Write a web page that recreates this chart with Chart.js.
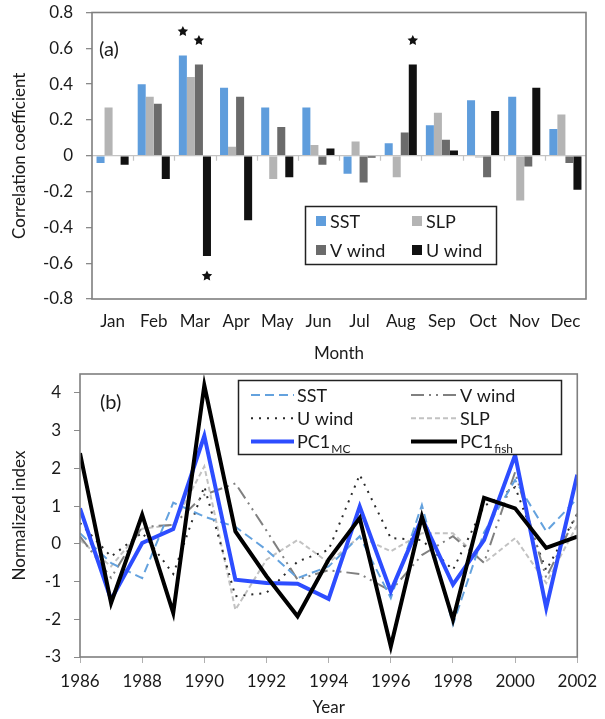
<!DOCTYPE html>
<html>
<head>
<meta charset="utf-8">
<script src="https://cdn.jsdelivr.net/npm/chart.js@4/dist/chart.umd.min.js"></script>
<style>
  html, body { margin: 0; padding: 0; background: #fff; }
  #wrap { position: relative; width: 605px; height: 719px; }
  #ca { position: absolute; left: 0; top: 0; }
  #cb { position: absolute; left: 0; top: 360px; }
</style>
</head>
<body>
<div id="wrap">
  <canvas id="ca" width="605" height="375"></canvas>
  <canvas id="cb" width="605" height="359"></canvas>
</div>
<script>
// Pannello (a): correlazioni mensili. Pannello (b): indici normalizzati 1986-2002.

const months = ["Jan", "Feb", "Mar", "Apr", "May", "Jun", "Jul", "Aug", "Sep", "Oct", "Nov", "Dec"];
const sstCorr   = [-0.04, 0.40, 0.56, 0.38, 0.27, 0.27, -0.10, 0.07, 0.17, 0.31, 0.33, 0.15];
const slpCorr   = [0.27, 0.33, 0.44, 0.05, -0.13, 0.06, 0.08, -0.12, 0.24, -0.01, -0.25, 0.23];
const vwindCorr = [0.00, 0.29, 0.51, 0.33, 0.16, -0.05, -0.15, 0.13, 0.09, -0.12, -0.06, -0.04];
const uwindCorr = [-0.05, -0.13, -0.56, -0.36, -0.12, 0.04, -0.01, 0.51, 0.03, 0.25, 0.38, -0.19];
// barre significative: [indice mese, indice serie]
const sigBars = [[2, 0], [2, 2], [2, 3], [7, 3]];
const corrTicks = [-0.8, -0.6, -0.4, -0.2, 0, 0.2, 0.4, 0.6, 0.8];

const years   = [1986, 1987, 1988, 1989, 1990, 1991, 1992, 1993, 1994, 1995, 1996, 1997, 1998, 1999, 2000, 2001, 2002];
const sstIdx   = [0.28, -0.51, -0.91, 1.09, 0.72, 0.45, -0.16, -0.91, -0.6, 0.2, -1.44, 1.03, -2.14, 0.3, 1.69, 0.33, 1.2];
const vwindIdx = [0.2, -0.9, 0.45, 0.5, 1.3, 1.6, 0.35, -0.95, -0.7, -0.8, -1.25, -0.3, 0.2, -0.5, 1.9, -0.9, 0.8];
const uwindIdx = [0.55, -0.34, 0.3, -0.8, 1.52, -1.39, -1.3, -0.47, -0.16, 1.83, 0.15, 0.1, -0.69, 1.0, 1.5, -0.7, 0.8];
const slpIdx   = [0.1, -0.6, 0.4, 0.5, 2.05, -1.75, -0.42, 0.1, -0.5, 0.19, -0.2, 0.28, 0.28, -0.51, 0.15, -1.04, 0.5];
const pc1Mc    = [0.94, -1.48, 0.02, 0.39, 2.86, -0.95, -1.04, -1.06, -1.46, 0.99, -1.26, 0.68, -1.08, 0.1, 2.35, -1.70, 1.83];
const pc1Fish  = [2.4, -1.57, 0.77, -1.83, 4.2, 0.33, -0.86, -1.92, -0.42, 0.68, -2.72, 0.72, -2.01, 1.22, 0.94, -0.11, 0.19];
const idxTicks = [-3, -2, -1, 0, 1, 2, 3, 4];

const FONT = "Lato, 'Open Sans', sans-serif";
const TXT = "#1a1a1a";
Chart.defaults.font.family = FONT;
Chart.defaults.color = TXT;

function drawFrame(chart) {
  const { ctx, chartArea: a } = chart;
  ctx.save();
  ctx.strokeStyle = "#7f7f7f";
  ctx.lineWidth = 1.6;
  ctx.strokeRect(a.left, a.top, a.right - a.left, a.bottom - a.top);
  ctx.restore();
}

function drawStar(ctx, cx, cy, r) {
  ctx.beginPath();
  for (let i = 0; i < 10; i++) {
    const ang = -Math.PI / 2 + i * Math.PI / 5;
    const rr = i % 2 ? r * 0.5 : r;
    ctx.lineTo(cx + rr * Math.cos(ang), cy + rr * Math.sin(ang));
  }
  ctx.closePath();
  ctx.fill();
}

// niente padding extra per le etichette agli estremi
function fixY(width) {
  return s => { s.width = width; s.paddingTop = 0; s.paddingBottom = 0; };
}

// ---------- pannello (a) ----------
const barSeries = [
  { label: "SST", data: sstCorr, color: "#5f9ddc" },
  { label: "SLP", data: slpCorr, color: "#b4b4b4" },
  { label: "V wind", data: vwindCorr, color: "#6b6b6b" },
  { label: "U wind", data: uwindCorr, color: "#111111" },
];

const panelAPlugin = {
  id: "panelA",
  afterDatasetsDraw(chart) {
    const { ctx, chartArea: a, scales } = chart;
    const y0 = scales.y.getPixelForValue(0);
    const slot = (a.right - a.left) / months.length;
    ctx.save();
    // trattini tra i mesi sotto lo zero
    ctx.strokeStyle = "#c4c4c4";
    ctx.lineWidth = 1.2;
    for (let i = 1; i < months.length; i++) {
      const x = Math.round(a.left + i * slot) + 0.5;
      ctx.beginPath(); ctx.moveTo(x, y0); ctx.lineTo(x, y0 + 5); ctx.stroke();
    }
    // asterischi
    ctx.fillStyle = "#111";
    sigBars.forEach(([m, d]) => {
      const el = chart.getDatasetMeta(d).data[m];
      const v = barSeries[d].data[m];
      const cy = v >= 0 ? el.y - 24 : el.y + 20;
      drawStar(ctx, el.x, cy, 5.5);
    });
    ctx.restore();
    drawFrame(chart);

    ctx.save();
    ctx.fillStyle = TXT;
    ctx.font = "20px " + FONT;
    ctx.textBaseline = "middle";
    ctx.fillText("(a)", 99, 50);
    // legenda
    const bx = 305, by = 206, bw = 191, bh = 58;
    ctx.strokeStyle = "#222";
    ctx.lineWidth = 1.5;
    ctx.strokeRect(bx + 0.5, by + 0.5, bw, bh);
    ctx.font = "18px " + FONT;
    barSeries.forEach((s, i) => {
      const col = i % 2, row = Math.floor(i / 2);
      const sx = bx + 11 + col * 96, sy = by + 15 + row * 29;
      ctx.fillStyle = s.color;
      ctx.fillRect(sx, sy - 5, 10, 10);
      ctx.fillStyle = TXT;
      ctx.fillText(s.label, sx + 14, sy + 1);
    });
    ctx.restore();
  }
};

new Chart(document.getElementById("ca"), {
  type: "bar",
  data: {
    labels: months,
    datasets: barSeries.map(s => ({
      label: s.label,
      data: s.data,
      backgroundColor: s.color,
      borderWidth: 0,
      categoryPercentage: 0.78,
      barPercentage: 1.0,
    })),
  },
  options: {
    responsive: false,
    devicePixelRatio: 1,
    animation: false,
    layout: { padding: { top: 12.5, right: 19, left: 0, bottom: 0 } },
    plugins: { legend: { display: false }, tooltip: { enabled: false } },
    scales: {
      x: {
        grid: { display: false, drawTicks: false },
        border: { display: false },
        ticks: { font: { size: 17 }, color: TXT, padding: 12, maxRotation: 0 },
        title: { display: true, text: "Month", font: { size: 17 }, color: TXT, padding: { top: 0, bottom: 11 } },
        afterFit: s => { s.height = 76; },
      },
      y: {
        min: -0.8, max: 0.8,
        afterBuildTicks: s => { s.ticks = corrTicks.map(v => ({ value: v })); },
        ticks: {
          font: { size: 17 }, color: TXT, padding: 13,
          callback: v => String(Math.round(v * 10) / 10),
        },
        grid: {
          drawTicks: true, tickLength: 6, tickColor: "#8a8a8a", lineWidth: 1.3,
          color: c => (c.tick && c.tick.value === 0 ? "#c4c4c4" : "rgba(0,0,0,0)"),
        },
        border: { display: false },
        title: { display: true, text: "Correlation coefficient", font: { size: 17 }, color: TXT, padding: { top: 9, bottom: 0 } },
        afterFit: fixY(92),
      },
    },
  },
  plugins: [panelAPlugin],
});

// ---------- pannello (b) ----------
const lineSeries = [
  { label: "PC1", sub: "fish", data: pc1Fish, color: "#000000", width: 4, dash: [], order: 0 },
  { label: "PC1", sub: "MC", data: pc1Mc, color: "#2d4dff", width: 4, dash: [], order: 1 },
  { label: "SST", data: sstIdx, color: "#64a2de", width: 2, dash: [9, 5], order: 2 },
  { label: "V wind", data: vwindIdx, color: "#808080", width: 2, dash: [13, 5, 2, 5, 2, 5], order: 3 },
  { label: "U wind", data: uwindIdx, color: "#2a2a2a", width: 2, dash: [2, 6], order: 4 },
  { label: "SLP", data: slpIdx, color: "#c2c2c2", width: 2, dash: [5, 3], order: 5 },
];
// ordine in legenda (riga per riga, due colonne)
const legendBOrder = ["SST", "V wind", "U wind", "SLP", "MC", "fish"];

const panelBPlugin = {
  id: "panelB",
  afterDatasetsDraw(chart) {
    const { ctx, chartArea: a } = chart;
    drawFrame(chart);
    ctx.save();
    ctx.fillStyle = TXT;
    ctx.textBaseline = "middle";
    ctx.font = "20px " + FONT;
    ctx.fillText("(b)", 100, a.top + 29);
    const bx = 238, by = a.top + 6, bw = 323, bh = 74;
    ctx.fillStyle = "#fff";
    ctx.fillRect(bx, by, bw, bh);
    ctx.strokeStyle = "#222";
    ctx.lineWidth = 1.5;
    ctx.strokeRect(bx + 0.5, by + 0.5, bw, bh);
    legendBOrder.forEach((key, i) => {
      const s = lineSeries.find(l => (l.sub || l.label) === key);
      const col = i % 2, row = Math.floor(i / 2);
      const x0 = col ? 411 : 251, x1 = col ? 457 : 294;
      const yy = by + 15 + row * 23.3;
      ctx.strokeStyle = s.color;
      ctx.lineWidth = s.width;
      ctx.setLineDash(s.dash);
      ctx.beginPath(); ctx.moveTo(x0, yy); ctx.lineTo(x1, yy); ctx.stroke();
      ctx.setLineDash([]);
      ctx.fillStyle = TXT;
      ctx.font = "18px " + FONT;
      const tx = x1 + 3;
      ctx.fillText(s.label, tx, yy + 1);
      if (s.sub) {
        const w = ctx.measureText(s.label).width;
        ctx.font = "12px " + FONT;
        ctx.fillText(s.sub, tx + w + 1, yy + 8);
      }
    });
    ctx.restore();
  }
};

new Chart(document.getElementById("cb"), {
  type: "line",
  data: {
    datasets: lineSeries.map(s => ({
      label: s.sub ? s.label + "_" + s.sub : s.label,
      data: years.map((yr, i) => ({ x: yr, y: s.data[i] })),
      borderColor: s.color,
      borderWidth: s.width,
      borderDash: s.dash,
      pointRadius: 0,
      tension: 0,
      fill: false,
      order: s.order,
      borderJoinStyle: "miter",
    })),
  },
  options: {
    responsive: false,
    devicePixelRatio: 1,
    animation: false,
    layout: { padding: { top: 14, right: 23, left: 0, bottom: 0 } },
    plugins: { legend: { display: false }, tooltip: { enabled: false } },
    scales: {
      x: {
        type: "linear", min: 1986, max: 2002,
        ticks: { stepSize: 2, font: { size: 17 }, color: TXT, padding: 8, maxRotation: 0, callback: v => String(v) },
        grid: { drawOnChartArea: false, drawTicks: true, tickLength: 6, tickColor: "#b0b0b0" },
        border: { display: false },
        title: { display: true, text: "Year", font: { size: 17 }, color: TXT, padding: { top: 0, bottom: 1 } },
        afterFit: s => { s.height = 62; },
      },
      y: {
        min: -3, max: 4.5,
        afterBuildTicks: s => { s.ticks = idxTicks.map(v => ({ value: v })); },
        ticks: { font: { size: 17 }, color: TXT, padding: 13 },
        grid: { drawOnChartArea: false, drawTicks: true, tickLength: 6, tickColor: "#8a8a8a" },
        border: { display: false },
        title: { display: true, text: "Normalized index", font: { size: 17 }, color: TXT, padding: { top: 9, bottom: 0 } },
        afterFit: fixY(80),
      },
    },
  },
  plugins: [panelBPlugin],
});
</script>
</body>
</html>
